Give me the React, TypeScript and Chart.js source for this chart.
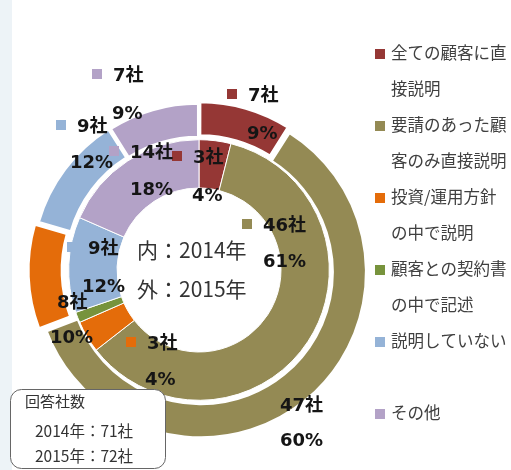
import React, { useEffect, useRef } from 'react';
import { Chart, registerables } from 'chart.js';

Chart.register(...registerables);

// ---- data ----
const CATEGORIES = [
  '全ての顧客に直接説明',
  '要請のあった顧客のみ直接説明',
  '投資/運用方針の中で説明',
  '顧客との契約書の中で記述',
  '説明していない',
  'その他',
];
const COLORS = ['#953735', '#948A54', '#E46C0A', '#77933C', '#95B3D7', '#B3A2C7'];
const COUNTS_2015 = [7, 47, 8, 0, 9, 7]; // outer ring
const COUNTS_2014 = [3, 46, 3, 1, 9, 14]; // inner ring
const RESPONDENTS_2014 = 71;
const RESPONDENTS_2015 = 72;
const CENTER_LINES = ['内：2014年', '外：2015年'];
const BOX_TITLE = '回答社数';

// ---- layout / style (not data) ----
const OUTER_EXPLODE = [16, 12, 24, 0, 16, 12];
// label anchors relative to ring centre: [countX, countY, pctX, pctY]
const OUTER_LABEL_POS: (number[] | null)[] = [
  [49, -174, 48, -136],
  [81, 136, 81, 171],
  [-142, 33, -149, 68],
  null,
  [-122, -143, -129, -107],
  [-86, -194, -87, -156],
];
const INNER_LABEL_POS: (number[] | null)[] = [
  [-6, -112, -7, -74],
  [64, -44, 64, -8],
  [-52, 74, -54, 110],
  null,
  [-111, -21, -117, 17],
  [-69, -117, -69, -80],
];

const LABEL_FONT = 'bold 18px "DejaVu Sans", "Noto Sans CJK JP", sans-serif';
const TEXT_FONT = '"Noto Sans CJK JP", "Noto Sans", sans-serif';

function wrapText(ctx: CanvasRenderingContext2D, text: string, maxW: number): string[] {
  const lines: string[] = [];
  let cur = '';
  for (const ch of Array.from(text)) {
    if (ctx.measureText(cur + ch).width > maxW && cur) {
      lines.push(cur);
      cur = ch;
    } else cur += ch;
  }
  if (cur) lines.push(cur);
  return lines;
}

const overlay = {
  id: 'overlay',
  beforeDraw(chart: any) {
    const ctx = chart.ctx as CanvasRenderingContext2D;
    ctx.save();
    ctx.fillStyle = '#ffffff';
    ctx.fillRect(0, 0, chart.width, chart.height);
    ctx.fillStyle = '#edf3f7';
    ctx.fillRect(0, 0, 12, chart.height);
    ctx.restore();
  },
  afterDatasetsDraw(chart: any) {
    const ctx = chart.ctx as CanvasRenderingContext2D;
    const arc = chart.getDatasetMeta(0).data[0];
    const cx = arc.x;
    const cy = arc.y;
    ctx.save();
    ctx.textBaseline = 'middle';
    ctx.textAlign = 'left';

    const drawLabels = (values: number[], pos: (number[] | null)[]) => {
      const total = values.reduce((a, b) => a + b, 0);
      values.forEach((v, i) => {
        const p = pos[i];
        if (!p || v === 0) return;
        const pct = Math.round((v / total) * 100);
        const x = cx + p[0];
        const y = cy + p[1];
        ctx.fillStyle = COLORS[i];
        ctx.fillRect(x - 21, y - 7, 10, 10);
        ctx.fillStyle = '#151515';
        ctx.font = LABEL_FONT;
        ctx.fillText(`${v}社`, x, y);
        ctx.fillText(`${pct}%`, cx + p[2], cy + p[3]);
      });
    };
    drawLabels(COUNTS_2015, OUTER_LABEL_POS);
    drawLabels(COUNTS_2014, INNER_LABEL_POS);

    // centre text
    ctx.fillStyle = '#333333';
    ctx.font = `21px ${TEXT_FONT}`;
    ctx.fillText(CENTER_LINES[0], cx - 62, cy - 20);
    ctx.fillText(CENTER_LINES[1], cx - 62, cy + 19);

    // respondents box
    ctx.beginPath();
    (ctx as any).roundRect(10.5, 389.5, 155, 79, 11);
    ctx.fillStyle = '#ffffff';
    ctx.fill();
    ctx.strokeStyle = '#666666';
    ctx.lineWidth = 1;
    ctx.stroke();
    ctx.fillStyle = '#333333';
    ctx.font = `15px ${TEXT_FONT}`;
    ctx.fillText(BOX_TITLE, 25, 401);
    ctx.font = `15.5px ${TEXT_FONT}`;
    ctx.fillText(`2014年：${RESPONDENTS_2014}社`, 35, 431);
    ctx.fillText(`2015年：${RESPONDENTS_2015}社`, 35, 456);

    // legend
    ctx.font = `16.5px ${TEXT_FONT}`;
    CATEGORIES.forEach((c, i) => {
      const y0 = 53 + 72 * i;
      ctx.fillStyle = COLORS[i];
      ctx.fillRect(375, y0 - 4, 10, 10);
      ctx.fillStyle = '#404040';
      wrapText(ctx, c, 120).forEach((line, j) => {
        ctx.fillText(line, 391, y0 + j * 36);
      });
    });
    ctx.restore();
  },
};

export default function App() {
  const ref = useRef<HTMLCanvasElement>(null);
  useEffect(() => {
    if (!ref.current) return;
    const chart = new Chart(ref.current, {
      type: 'doughnut',
      data: {
        labels: CATEGORIES,
        datasets: [
          {
            label: '2015',
            data: COUNTS_2015,
            backgroundColor: COLORS,
            borderColor: '#ffffff',
            borderWidth: 2,
            offset: OUTER_EXPLODE,
            hoverOffset: 24,
            weight: 33,
          } as any,
          {
            label: 'gap',
            data: [1],
            backgroundColor: 'rgba(0,0,0,0)',
            borderWidth: 0,
            hoverOffset: 24,
            weight: 5,
          } as any,
          {
            label: '2014',
            data: COUNTS_2014,
            backgroundColor: COLORS,
            borderColor: '#ffffff',
            borderWidth: 1,
            hoverOffset: 24,
            weight: 42,
          } as any,
        ],
      },
      options: {
        responsive: false,
        animation: false,
        events: [],
        cutout: 82,
        layout: { padding: { left: 24, right: 137, top: 95, bottom: 25 } },
        plugins: { legend: { display: false }, tooltip: { enabled: false } },
      } as any,
      plugins: [overlay],
    });
    return () => chart.destroy();
  }, []);
  return (
    <div style={{ position: 'fixed', left: 0, top: 0, width: 511, height: 470, background: '#fff' }}>
      <canvas ref={ref} width={511} height={470} style={{ display: 'block' }} />
    </div>
  );
}
